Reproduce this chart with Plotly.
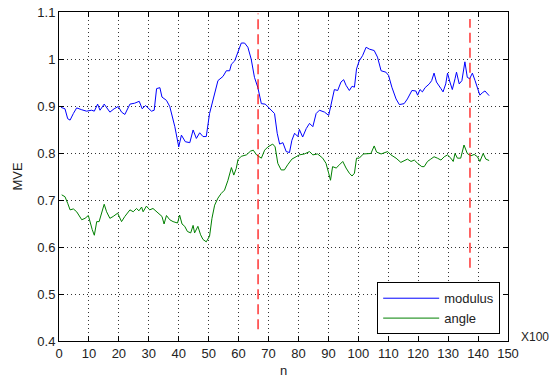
import plotly.graph_objects as go

# modulus series (blue)
mod_x = [0.7, 2, 2.9, 3.7, 4.8, 5.9, 7.6, 9.2, 10.9, 11.8, 12.9, 13.7, 15.1, 17, 18.4, 19.8, 20.9, 22, 23.7, 25.3, 26.8, 27.8, 28.9, 30.9, 31.8, 32.6, 33.7, 34.4, 35.9, 37, 38.7, 40, 40.9, 42.2, 43.7, 44.8, 45.9, 47, 48.1, 49.2, 50.3, 51.4, 53.1, 54.8, 55.9, 57, 57.6, 58.7, 59.8, 60.9, 62, 63.1, 64.2, 65.3, 66.4, 67.6, 68.9, 69.8, 71, 72, 72.9, 73.7, 74.8, 75.9, 77, 77.8, 78.7, 79.8, 80.3, 81.4, 82.6, 83.7, 84.8, 85.9, 87, 88.7, 90.1, 90.9, 92, 93.1, 94.2, 95.1, 95.9, 97, 97.9, 98.7, 99.4, 100.3, 101.4, 102.6, 103.7, 105.3, 106.4, 107.6, 109.2, 110.1, 111.2, 112.6, 113.7, 115.3, 116.4, 117.9, 119.2, 119.8, 120.6, 121.4, 122.3, 123.7, 124.5, 125.3, 126.1, 127.6, 128.3, 129.2, 129.8, 130.6, 131.4, 132.3, 132.8, 133.7, 134.6, 135.6, 136.4, 137.2, 138.1, 139, 139.8, 140.6, 141.4, 142.3, 143.7]
mod_y = [0.897, 0.894, 0.873, 0.870, 0.884, 0.896, 0.892, 0.889, 0.891, 0.889, 0.904, 0.891, 0.904, 0.887, 0.894, 0.899, 0.887, 0.882, 0.904, 0.906, 0.910, 0.894, 0.901, 0.889, 0.891, 0.937, 0.939, 0.919, 0.912, 0.899, 0.856, 0.813, 0.838, 0.824, 0.822, 0.849, 0.831, 0.843, 0.835, 0.835, 0.884, 0.912, 0.954, 0.963, 0.975, 0.975, 0.989, 0.996, 1.014, 1.034, 1.034, 1.025, 1.000, 0.961, 0.940, 0.905, 0.904, 0.898, 0.891, 0.884, 0.842, 0.819, 0.822, 0.803, 0.801, 0.827, 0.842, 0.835, 0.850, 0.834, 0.852, 0.863, 0.856, 0.884, 0.891, 0.887, 0.880, 0.905, 0.935, 0.933, 0.951, 0.956, 0.944, 0.933, 0.942, 0.940, 0.979, 0.996, 1.007, 1.025, 1.021, 1.018, 1.004, 0.975, 0.972, 0.965, 0.940, 0.915, 0.903, 0.905, 0.915, 0.933, 0.932, 0.923, 0.935, 0.930, 0.939, 0.947, 0.954, 0.970, 0.951, 0.937, 0.930, 0.947, 0.970, 0.951, 0.935, 0.958, 0.972, 0.947, 0.954, 0.994, 0.961, 0.958, 0.970, 0.954, 0.940, 0.923, 0.928, 0.932, 0.922]

# angle series (green)
ang_x = [0.9, 2, 2.9, 3.7, 4.8, 5.9, 7.6, 8.7, 9.8, 10.3, 11.1, 11.8, 12.6, 13.4, 14.2, 15.1, 15.9, 17, 18.1, 19.6, 20.9, 22, 23.7, 24.8, 25.9, 26.7, 27.6, 28.1, 29.2, 30.3, 31.4, 32.6, 33.7, 34.4, 35.1, 35.9, 37, 38.1, 39.6, 40.3, 41.1, 42, 42.9, 44, 44.8, 45.3, 46.4, 47.3, 48.1, 49.2, 50.3, 51.1, 52, 53.1, 54.2, 55.3, 56.4, 57.6, 58.4, 59.2, 59.8, 60.9, 62.6, 64, 64.9, 66, 67.6, 68.7, 69.8, 71.4, 72.2, 73.1, 74.2, 75.3, 76.4, 77.8, 79.2, 80.3, 82, 83.7, 84.8, 86.4, 88.1, 89.2, 90.1, 90.7, 91.4, 92.6, 93.7, 94.8, 95.9, 97, 97.9, 98.7, 99.4, 100.3, 101.7, 102.8, 104.2, 105.3, 106.1, 107.6, 109, 109.8, 110.9, 112.6, 114.2, 115.3, 116.4, 117.6, 118.7, 119.8, 121.2, 122, 123.1, 124.2, 125.3, 126.4, 127.6, 128.7, 129.8, 130.9, 131.7, 132.3, 133.1, 134.2, 135.3, 136.4, 137.6, 138.7, 139.8, 140.6, 141.7, 142.6, 143.7]
ang_y = [0.711, 0.707, 0.693, 0.679, 0.681, 0.675, 0.658, 0.661, 0.667, 0.654, 0.637, 0.625, 0.654, 0.654, 0.672, 0.691, 0.675, 0.661, 0.665, 0.672, 0.654, 0.665, 0.679, 0.675, 0.682, 0.677, 0.685, 0.675, 0.687, 0.679, 0.682, 0.675, 0.668, 0.665, 0.649, 0.667, 0.658, 0.654, 0.651, 0.668, 0.649, 0.644, 0.633, 0.630, 0.646, 0.630, 0.644, 0.626, 0.616, 0.611, 0.623, 0.661, 0.689, 0.704, 0.714, 0.721, 0.741, 0.769, 0.753, 0.767, 0.786, 0.793, 0.796, 0.804, 0.806, 0.796, 0.789, 0.806, 0.813, 0.819, 0.813, 0.778, 0.764, 0.764, 0.775, 0.787, 0.792, 0.796, 0.798, 0.803, 0.796, 0.798, 0.789, 0.778, 0.757, 0.742, 0.771, 0.768, 0.775, 0.782, 0.768, 0.757, 0.751, 0.757, 0.789, 0.789, 0.798, 0.799, 0.799, 0.815, 0.802, 0.798, 0.801, 0.803, 0.796, 0.789, 0.780, 0.784, 0.787, 0.782, 0.785, 0.778, 0.771, 0.771, 0.782, 0.787, 0.792, 0.789, 0.785, 0.792, 0.796, 0.789, 0.782, 0.799, 0.789, 0.789, 0.817, 0.799, 0.794, 0.797, 0.792, 0.782, 0.799, 0.787, 0.784]

# red dashed markers
vline_x = [66.5, 137.3]
vline_ymin = [0.425, 0.556]
vline_ymax = [1.097, 1.085]

x_ticks = list(range(0, 151, 10))
y_ticks = [0.4, 0.5, 0.6, 0.7, 0.8, 0.9, 1.0, 1.1]
y_tick_labels = ["0.4", "0.5", "0.6", "0.7", "0.8", "0.9", "1", "1.1"]

FONT = "Liberation Sans, Arial, sans-serif"
TXT = "#222222"

fig = go.Figure()
fig.add_trace(go.Scatter(x=mod_x, y=mod_y, mode="lines", name="modulus",
                         line=dict(color="#0000ff", width=1)))
fig.add_trace(go.Scatter(x=ang_x, y=ang_y, mode="lines", name="angle",
                         line=dict(color="#008000", width=1)))
for vx, y0, y1 in zip(vline_x, vline_ymin, vline_ymax):
    fig.add_trace(go.Scatter(x=[vx, vx], y=[y0, y1], mode="lines", showlegend=False,
                             line=dict(color="#ff0000", width=1.2, dash="10px,5px")))

axis_common = dict(showline=True, linecolor="black", linewidth=1, mirror="ticks",
                   ticks="inside", ticklen=5, tickcolor="black", automargin=False,
                   showgrid=True, gridcolor="#333333", griddash="1px,3px", gridwidth=1,
                   zeroline=False, tickfont=dict(family=FONT, size=13, color=TXT))

fig.update_xaxes(range=[0, 150], tickvals=x_ticks, **axis_common)
fig.update_yaxes(range=[0.4, 1.1], tickvals=y_ticks, ticktext=y_tick_labels, **axis_common)

fig.update_layout(
    template="none",
    width=556, height=379,
    margin=dict(l=59, r=48, t=12, b=38, pad=0),
    paper_bgcolor="white", plot_bgcolor="white",
    font=dict(family=FONT, size=12, color=TXT),
    legend=dict(x=0.9826, y=0.0205, xanchor="right", yanchor="bottom",
                bgcolor="white", bordercolor="black", borderwidth=1,
                font=dict(family=FONT, size=13, color=TXT),
                itemwidth=56, tracegroupgap=0),
    annotations=[
        dict(text="X100", xref="paper", yref="paper", x=1, y=0, xanchor="left",
             yanchor="middle", xshift=11, yshift=4, showarrow=False,
             font=dict(family=FONT, size=12, color=TXT)),
        dict(text="n", xref="paper", yref="paper", x=0.5, y=0, xanchor="center",
             yanchor="middle", yshift=-29, showarrow=False,
             font=dict(family=FONT, size=13, color=TXT)),
        dict(text="MVE", xref="paper", yref="paper", x=0, y=0.5, xanchor="center",
             yanchor="middle", xshift=-42, textangle=-90, showarrow=False,
             font=dict(family=FONT, size=13, color=TXT)),
    ],
)

fig.write_html("out.html", config={"displayModeBar": False},
               post_script="document.body.style.margin='0';document.body.style.overflow='hidden';")
